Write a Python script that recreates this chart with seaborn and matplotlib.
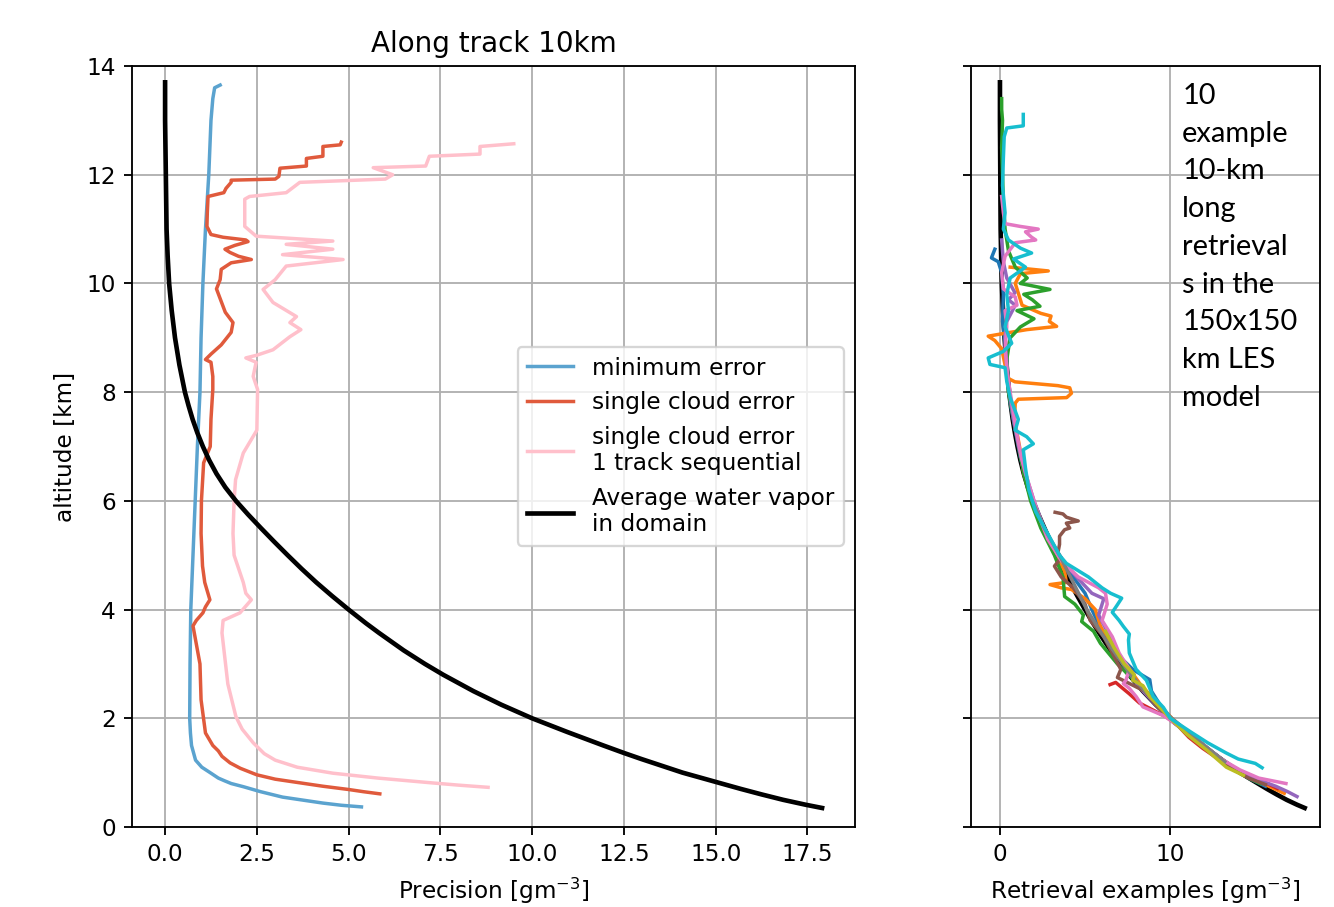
import matplotlib.pyplot as plt
import seaborn as sns
import numpy as np

# --- left panel: precision profiles (altitude km, value g/m3) ---
avg_vapor = [(13.7, 0.0), (13.0, 0.0), (12.0, 0.02), (11.0, 0.04), (10.5, 0.07), (10.0, 0.11),
             (9.5, 0.18), (9.0, 0.27), (8.5, 0.39), (8.0, 0.54), (7.75, 0.64), (7.5, 0.75),
             (7.25, 0.88), (7.0, 1.03), (6.75, 1.2), (6.5, 1.4), (6.25, 1.64), (6.0, 1.93),
             (5.75, 2.26), (5.5, 2.61), (5.25, 2.97), (5.0, 3.34), (4.75, 3.72), (4.5, 4.12),
             (4.25, 4.55), (4.0, 5.0), (3.75, 5.47), (3.57, 5.83), (3.25, 6.5), (3.0, 7.08),
             (2.8, 7.58), (2.5, 8.4), (2.25, 9.16), (2.0, 10.0), (1.75, 10.95), (1.5, 11.94),
             (1.36, 12.51), (1.25, 12.98), (1.0, 14.1), (0.83, 15.0), (0.7, 15.69), (0.6, 16.25),
             (0.5, 16.84), (0.41, 17.45), (0.35, 17.9)]

min_error = [(13.65, 1.5), (13.6, 1.35), (13.4, 1.3), (13.0, 1.25), (12.0, 1.19), (11.0, 1.1),
             (10.0, 1.03), (9.0, 0.98), (8.0, 0.95), (7.0, 0.88), (6.0, 0.82), (5.0, 0.76),
             (4.0, 0.7), (3.0, 0.68), (2.0, 0.67), (1.73, 0.69), (1.5, 0.72), (1.23, 0.83),
             (1.1, 1.0), (0.99, 1.25), (0.9, 1.45), (0.85, 1.62), (0.8, 1.8), (0.74, 2.14),
             (0.65, 2.6), (0.55, 3.2), (0.5, 3.7), (0.44, 4.3), (0.4, 4.8), (0.37, 5.35)]

single_cloud = [(12.6, 4.8), (12.55, 4.77), (12.52, 4.3), (12.34, 4.3), (12.3, 3.85), (12.16, 3.85),
                (12.12, 3.13), (11.97, 3.1), (11.92, 3.0), (11.9, 1.8), (11.86, 1.8), (11.75, 1.66),
                (11.67, 1.6), (11.6, 1.17), (11.3, 1.15), (11.05, 1.14), (10.9, 1.25), (10.85, 1.58),
                (10.8, 2.2), (10.77, 2.26), (10.7, 1.9), (10.63, 1.63), (10.57, 1.77), (10.5, 2.0),
                (10.44, 2.35), (10.38, 1.8), (10.26, 1.53), (10.07, 1.5), (9.9, 1.4), (9.47, 1.64),
                (9.28, 1.85), (9.1, 1.8), (8.87, 1.53), (8.7, 1.25), (8.6, 1.1), (8.55, 1.25),
                (8.29, 1.3), (8.05, 1.3), (7.5, 1.25), (7.0, 1.23), (6.7, 1.05), (6.0, 0.99),
                (5.4, 0.98), (4.8, 1.02), (4.5, 1.08), (4.18, 1.22), (4.05, 1.1), (3.94, 1.03),
                (3.8, 0.85), (3.7, 0.76), (3.0, 0.95), (2.34, 0.98), (1.73, 1.1), (1.5, 1.3),
                (1.4, 1.45), (1.3, 1.55), (1.18, 1.77), (1.08, 2.05), (0.96, 2.5), (0.88, 3.0),
                (0.81, 3.7), (0.75, 4.3), (0.69, 5.0), (0.65, 5.4), (0.61, 5.85)]

single_cloud_seq = [(0.73, 8.8), (0.77, 8.0), (0.81, 7.3), (0.9, 5.8), (0.99, 4.57), (1.1, 3.6),
                    (1.23, 3.0), (1.35, 2.7), (1.55, 2.4), (1.8, 2.1), (2.03, 1.93),
                    (2.63, 1.71), (3.57, 1.55), (3.8, 1.58), (3.94, 2.04), (4.18, 2.35), (4.3, 2.2),
                    (4.5, 2.13), (5.0, 1.88), (5.4, 1.85), (6.0, 1.88), (6.39, 1.92), (6.88, 2.13),
                    (7.3, 2.5), (8.05, 2.52), (8.29, 2.4), (8.42, 2.44), (8.55, 2.48), (8.63, 2.2),
                    (8.68, 2.5), (8.78, 2.94), (9.02, 3.4), (9.15, 3.7), (9.28, 3.4), (9.39, 3.58),
                    (9.65, 2.94), (9.89, 2.67), (10.07, 3.0), (10.32, 3.3), (10.44, 4.85), (10.53, 3.2),
                    (10.63, 4.57), (10.72, 3.3), (10.78, 4.57), (10.87, 2.48), (11.05, 2.17),
                    (11.55, 2.17), (11.6, 2.3), (11.67, 3.3), (11.86, 3.67), (11.92, 6.0), (12.0, 6.2),
                    (12.13, 5.67), (12.16, 7.1), (12.34, 7.2), (12.38, 8.58), (12.52, 8.58), (12.57, 9.5)]

# --- right panel: 10 example retrievals ---
ret_blue = [(10.63, -0.3), (10.47, -0.5), (10.4, -0.1), (10.2, 0.1), (9.8, 0.2), (9.3, 0.15),
            (8.8, 0.35), (8.3, 0.45), (7.8, 0.6), (7.3, 0.9), (6.8, 1.2), (6.3, 1.6), (5.8, 2.1),
            (5.3, 2.9), (4.9, 3.7), (4.6, 4.3), (4.3, 5.0), (4.0, 5.4), (3.6, 6.0), (3.2, 6.8),
            (2.89, 7.84), (2.71, 8.8), (2.5, 8.9), (2.2, 9.5), (2.0, 10.0), (1.7, 11.2),
            (1.4, 12.4), (1.1, 13.6), (0.9, 14.6), (0.75, 15.6)]
ret_orange = [(10.3, 0.6), (10.23, 2.84), (10.18, 1.2), (10.0, 0.9), (9.8, 1.1), (9.6, 1.3),
              (9.45, 2.4), (9.4, 3.0), (9.3, 2.9), (9.21, 3.33), (9.15, 1.57), (9.1, 0.6),
              (9.03, -0.69), (8.95, -0.3), (8.8, 0.1), (8.5, 0.3), (8.25, 0.5), (8.19, 0.88),
              (8.12, 3.4), (8.08, 4.1), (7.98, 4.2), (7.9, 3.92), (7.87, 1.08), (7.8, 0.9),
              (7.5, 0.85), (7.0, 1.15), (6.5, 1.4), (6.0, 1.9), (5.5, 2.5), (5.0, 3.3), (4.7, 3.8),
              (4.5, 3.9), (4.46, 2.94), (4.4, 3.6), (4.37, 4.2), (4.2, 5.0), (4.0, 5.6), (3.7, 5.9),
              (3.3, 6.6), (3.0, 7.4), (2.6, 8.3), (2.3, 9.2), (2.0, 10.1), (1.6, 11.5), (1.2, 13.2),
              (0.9, 14.8), (0.75, 15.8), (0.62, 16.7)]
ret_green = [(13.4, 0.1), (13.2, 0.1), (13.0, 0.15), (12.5, 0.1), (12.0, 0.15), (11.5, 0.2),
             (11.0, 0.3), (10.6, 0.5), (10.3, 0.9), (10.1, 1.6), (10.0, 1.2), (9.89, 2.94),
             (9.8, 1.4), (9.7, 1.9), (9.58, 2.35), (9.5, 1.0), (9.35, 2.0), (9.2, 1.2), (9.0, 0.6),
             (8.6, 0.4), (8.0, 0.5), (7.5, 0.8), (7.0, 1.1), (6.5, 1.4), (6.0, 1.8), (5.5, 2.4),
             (5.0, 3.2), (4.6, 3.7), (4.24, 3.8), (4.1, 4.4), (3.9, 4.9), (3.78, 4.8), (3.6, 5.5),
             (3.38, 5.9), (3.0, 6.9), (2.6, 8.2), (2.3, 9.2), (2.0, 10.0), (1.6, 11.6),
             (1.2, 13.1), (0.9, 14.6), (0.8, 15.3)]
ret_red = [(2.62, 6.47), (2.66, 6.8), (2.58, 7.1), (2.45, 7.6), (2.28, 8.2), (2.15, 9.0),
           (2.02, 9.8), (1.85, 10.5), (1.65, 11.1), (1.45, 11.9), (1.3, 12.6), (1.15, 13.4),
           (1.0, 14.2), (0.9, 15.0), (0.8, 15.7), (0.71, 16.3)]
ret_purple = [(10.8, 0.1), (10.4, 0.2), (10.1, 0.4), (9.83, 0.88), (9.7, 0.5), (9.6, 0.9),
              (9.3, 0.4), (9.0, 0.3), (8.5, 0.4), (8.0, 0.55), (7.5, 0.8), (7.0, 1.1), (6.5, 1.5),
              (6.0, 2.0), (5.5, 2.6), (5.0, 3.4), (4.6, 4.5), (4.3, 5.4), (4.2, 6.1), (3.9, 5.8),
              (3.6, 6.3), (3.2, 6.9), (2.9, 7.5), (2.6, 8.1), (2.3, 9.0), (2.0, 9.9), (1.7, 11.1),
              (1.4, 12.3), (1.1, 13.7), (0.9, 14.9), (0.75, 16.2), (0.65, 16.9), (0.56, 17.45)]
ret_brown = [(5.79, 3.24), (5.76, 3.7), (5.7, 3.9), (5.63, 4.6), (5.59, 3.9), (5.5, 4.1),
             (5.47, 3.8), (5.35, 3.5), (5.2, 3.5), (5.04, 3.4), (4.95, 3.6), (4.8, 3.2), (4.6, 3.6),
             (4.4, 4.3), (4.1, 5.0), (3.8, 5.3), (3.5, 6.1), (3.2, 6.6), (2.9, 7.1), (2.75, 6.9),
             (2.5, 8.5), (2.2, 9.3), (2.0, 10.0), (1.7, 11.2), (1.4, 12.3), (1.1, 13.5),
             (0.9, 14.6), (0.78, 15.6)]
ret_pink = [(11.6, 0.1), (11.3, 0.2), (11.1, 0.3), (11.05, 1.18), (11.0, 2.25), (10.95, 1.5),
            (10.85, 1.86), (10.8, 2.1), (10.75, 0.9), (10.5, 0.3), (10.2, 0.1), (9.9, 0.2),
            (9.75, 0.9), (9.6, 1.0), (9.5, 0.3), (9.2, 0.4), (8.8, 0.3), (8.3, 0.45), (7.8, 0.7),
            (7.3, 0.95), (6.8, 1.25), (6.3, 1.7), (5.8, 2.2), (5.3, 2.8), (4.9, 3.6), (4.6, 4.6),
            (4.4, 5.8), (4.3, 6.2), (4.1, 6.3), (3.8, 6.0), (3.5, 6.6), (3.2, 7.0), (2.9, 7.6),
            (2.7, 7.4), (2.64, 7.25), (2.55, 7.6), (2.4, 8.0), (2.21, 8.4), (2.05, 9.6),
            (1.8, 10.8), (1.5, 12.0), (1.25, 13.0), (1.05, 14.1), (0.9, 15.2), (0.8, 16.8)]
ret_gray = [(6.0, 1.9), (5.5, 2.6), (5.0, 3.5), (4.5, 4.3), (4.0, 5.1), (3.5, 6.1), (3.0, 7.2),
            (2.5, 8.5), (2.0, 10.1), (1.5, 12.0), (1.2, 13.2)]
ret_olive = [(3.6, 6.2), (3.3, 6.7), (3.0, 7.3), (2.8, 7.9), (2.7, 7.8), (2.6, 8.4), (2.4, 8.8),
             (2.2, 9.4), (2.0, 10.0), (1.7, 11.0), (1.4, 12.2), (1.1, 13.3), (0.95, 14.3)]
ret_cyan = [(13.11, 1.37), (12.9, 1.37), (12.86, 0.4), (12.7, 0.25), (12.3, 0.2), (11.8, 0.15),
            (11.3, 0.3), (11.0, 0.2), (10.8, 0.5), (10.65, 1.2), (10.56, 1.86), (10.45, 0.8),
            (10.3, 1.5), (10.1, 0.6), (9.8, 0.4), (9.5, 0.5), (9.2, 0.3), (8.9, 0.69), (8.75, 0.2),
            (8.63, -0.69), (8.51, -0.59), (8.45, 0.3), (8.2, 0.4), (7.9, 0.6), (7.5, 1.08),
            (7.3, 0.9), (7.18, 1.57), (7.05, 1.96), (6.94, 1.37), (6.6, 1.5), (6.2, 1.7),
            (5.8, 2.1), (5.4, 2.8), (5.0, 3.5), (4.85, 3.9), (4.6, 5.2), (4.4, 6.0), (4.3, 6.5),
            (4.21, 7.15), (4.09, 6.9), (3.95, 6.6), (3.8, 7.0), (3.69, 7.25), (3.55, 7.6),
            (3.44, 7.55), (3.2, 7.6), (2.9, 8.0), (2.7, 8.6), (2.4, 9.0), (2.2, 9.6), (2.0, 10.0),
            (1.75, 11.2), (1.55, 12.2), (1.36, 13.3), (1.25, 14.0), (1.17, 15.0), (1.09, 15.4)]
retrievals = [ret_blue, ret_orange, ret_green, ret_red, ret_purple,
              ret_brown, ret_pink, ret_gray, ret_olive, ret_cyan]

note = "10\nexample\n10-km\nlong\nretrieval\ns in the\n150x150\nkm LES\nmodel"


def profile(ax, pts, **kw):
    arr = np.array(pts)
    sns.lineplot(x=arr[:, 1], y=arr[:, 0], sort=False, estimator=None, ax=ax, **kw)


fig = plt.figure(figsize=(8.0, 907 / 166.75), dpi=166.75)
ax1 = fig.add_axes([0.099, 0.0882, 0.542, 0.839])
ax2 = fig.add_axes([0.7279, 0.0882, 0.2616, 0.839], sharey=ax1)

profile(ax1, min_error, color='#5ba3cf', lw=1.5, label='minimum error')
profile(ax1, single_cloud, color='#e05a3c', lw=1.5, label='single cloud error')
profile(ax1, single_cloud_seq, color='pink', lw=1.5, label='single cloud error\n1 track sequential')
profile(ax1, avg_vapor, color='black', lw=2, label='Average water vapor\nin domain')
ax1.set_xlim(-0.9, 18.8)
ax1.set_ylim(0, 14)
ax1.set_xticks(np.arange(0, 17.6, 2.5))
ax1.set_yticks(np.arange(0, 15, 2))
ax1.grid(True)
ax1.set_title('Along track 10km')
ax1.set_xlabel('Precision [gm$^{-3}$]')
ax1.set_ylabel('altitude [km]')
ax1.legend(loc='center right')

profile(ax2, avg_vapor, color='black', lw=2)
for i, r in enumerate(retrievals):
    profile(ax2, r, color=f'C{i}', lw=1.5)
ax2.set_xlim(-1.7, 18.8)
ax2.set_xticks([0, 10])
ax2.grid(True)
ax2.tick_params(labelleft=False)
ax2.set_xlabel('Retrieval examples [gm$^{-3}$]')
ax2.set_ylabel('')

ax2.text(0.605, 0.978, note, transform=ax2.transAxes, va='top', ha='left',
         fontsize=12.5, linespacing=1.56, family='Lato', color='black')

fig.savefig('out.png', dpi=166.75)
